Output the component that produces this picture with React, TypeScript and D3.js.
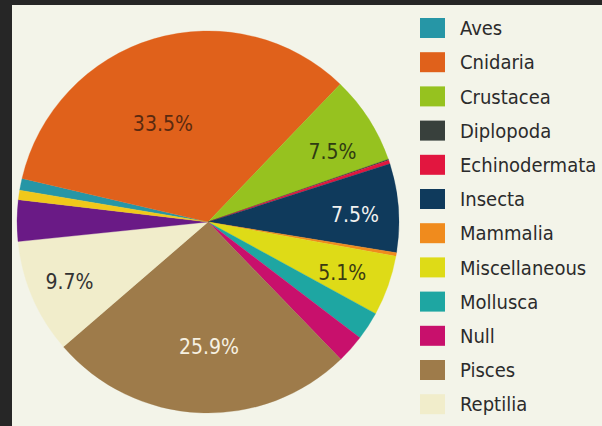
import React from "react";
import * as d3 from "d3";

// ---- data ----
const categories = [
  "Aves", "Cnidaria", "Crustacea", "Diplopoda", "Echinodermata", "Insecta",
  "Mammalia", "Miscellaneous", "Mollusca", "Null", "Pisces", "Reptilia",
  "Other A", "Other B",
];
const shares = [1.0, 33.5, 7.5, 0.1, 0.3, 7.5, 0.3, 5.1, 2.4, 2.4, 25.9, 9.7, 3.5, 0.8];
const legendItems = [
  "Aves", "Cnidaria", "Crustacea", "Diplopoda", "Echinodermata", "Insecta",
  "Mammalia", "Miscellaneous", "Mollusca", "Null", "Pisces", "Reptilia",
];
const labelled = ["Cnidaria", "Crustacea", "Insecta", "Miscellaneous", "Pisces", "Reptilia"];

// ---- styles ----
const colors: Record<string, string> = {
  Aves: "#2696a6",
  Cnidaria: "#e0611b",
  Crustacea: "#96c21f",
  Diplopoda: "#38403c",
  Echinodermata: "#e2163f",
  Insecta: "#0f3a5c",
  Mammalia: "#f08b1d",
  Miscellaneous: "#dedb17",
  Mollusca: "#1ea6a2",
  Null: "#c8106c",
  Pisces: "#9e7b4a",
  Reptilia: "#f1edcb",
  "Other A": "#6a1a86",
  "Other B": "#f0c81a",
};
const labelStyle: Record<string, { r: number; shift: number; fill: string }> = {
  Cnidaria: { r: 0.57, shift: -8, fill: "#5a2a10" },
  Crustacea: { r: 0.75, shift: 3, fill: "#2f3b12" },
  Insecta: { r: 0.77, shift: 1.5, fill: "#f2f2f0" },
  Miscellaneous: { r: 0.75, shift: 1, fill: "#3a3a12" },
  Pisces: { r: 0.65, shift: -3, fill: "#f6f1e2" },
  Reptilia: { r: 0.79, shift: 0, fill: "#333333" },
};

const W = 602;
const H = 426;
const cx = 208;
const cy = 222;
const R = 191;
const font = "'DejaVu Sans Condensed', 'DejaVu Sans', sans-serif";

export default function App() {
  const data = categories.map((c, i) => ({ name: c, value: shares[i] }));
  const start = (-80.4 * Math.PI) / 180;
  const pie = d3
    .pie<{ name: string; value: number }>()
    .sort(null)
    .value((d) => d.value)
    .startAngle(start)
    .endAngle(start + 2 * Math.PI);
  const arcs = pie(data);
  const arc = d3
    .arc<d3.PieArcDatum<{ name: string; value: number }>>()
    .innerRadius(0)
    .outerRadius(R);

  const legendY = d3
    .scaleBand<string>()
    .domain(legendItems)
    .range([11, 11 + 34.2 * legendItems.length]);

  return (
    <svg
      width={W}
      height={H}
      style={{ position: "absolute", left: 0, top: 0 }}
    >
      <rect x={0} y={0} width={W} height={H} fill="#262626" />
      <rect x={12} y={5} width={W - 12} height={H - 5} fill="#f3f4e9" />
      <g transform={`translate(${cx},${cy})`}>
        {arcs.map((a) => (
          <path
            key={a.data.name}
            d={arc(a) || ""}
            fill={colors[a.data.name]}
            stroke={colors[a.data.name]}
            strokeWidth={0.3}
          />
        ))}
        {arcs
          .filter((a) => labelled.includes(a.data.name))
          .map((a) => {
            const st = labelStyle[a.data.name];
            const mid = (a.startAngle + a.endAngle) / 2 + (st.shift * Math.PI) / 180;
            const rr = R * st.r;
            const x = Math.sin(mid) * rr;
            const y = -Math.cos(mid) * rr;
            return (
              <text
                key={a.data.name}
                x={x}
                y={y}
                dy="0.36em"
                textAnchor="middle"
                fontFamily={font}
                fontSize={21}
                fill={st.fill}
              >
                {`${a.data.value.toFixed(1)}%`}
              </text>
            );
          })}
      </g>
      <g>
        {legendItems.map((name) => {
          const y = legendY(name)!;
          return (
            <g key={name} transform={`translate(0,${y})`}>
              <rect x={420} y={7} width={25} height={20} fill={colors[name]} />
              <text
                x={460}
                y={17}
                dy="0.36em"
                fontFamily={font}
                fontSize={20}
                fill="#2b2b2b"
              >
                {name}
              </text>
            </g>
          );
        })}
      </g>
    </svg>
  );
}
